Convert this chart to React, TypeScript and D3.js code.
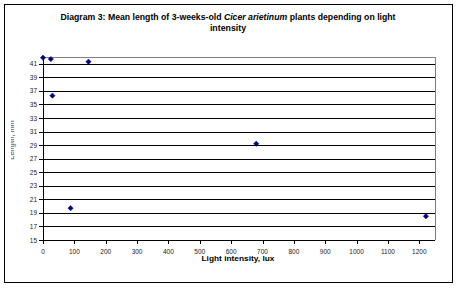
import React from "react";
import * as d3 from "d3";

const luxValues = [0, 25, 30, 145, 88, 680, 1221];
const lengthValues = [41.9, 41.7, 36.3, 41.3, 19.7, 29.2, 18.5];
const xTicks = [0, 100, 200, 300, 400, 500, 600, 700, 800, 900, 1000, 1100, 1200];
const yTicks = [15, 17, 19, 21, 23, 25, 27, 29, 31, 33, 35, 37, 39, 41];
const titleLine1a = "Diagram 3: Mean length of 3-weeks-old ";
const titleItalic = "Cicer arietinum";
const titleLine1b = "  plants depending on light";
const titleLine2 = "intensity";
const xLabel = "Light intensity, lux";
const yLabel = "Length, mm";

export default function App() {
  const W = 457, H = 288;
  const left = 43, right = 435, top = 57, bottom = 240;
  const x = d3.scaleLinear().domain([0, 1250]).range([left, right]);
  const y = d3.scaleLinear().domain([15, 42]).range([bottom, top]);
  const diamond = d3.symbol().type(d3.symbolDiamond2).size(18)();
  const font = "Liberation Sans, Arial, sans-serif";
  return (
    <svg width={W} height={H} style={{ position: "absolute", left: 0, top: 0 }}>
      <defs>
        <clipPath id="ylab">
          <rect x={11} y={0} width={40} height={H} />
        </clipPath>
      </defs>
      <rect x={0} y={0} width={W} height={H} fill="white" />
      <rect x={4.5} y={4.5} width={448} height={278} fill="white" stroke="black" strokeWidth={1} />
      <text x={228} y={20} textAnchor="middle" fontFamily={font} fontSize={8.8} fontWeight="bold" fill="#000" textLength={335} lengthAdjust="spacingAndGlyphs">
        {titleLine1a}
        <tspan fontStyle="italic">{titleItalic}</tspan>
        {titleLine1b}
      </text>
      <text x={228} y={31} textAnchor="middle" fontFamily={font} fontSize={8.8} fontWeight="bold" fill="#000">
        {titleLine2}
      </text>
      {/* plot border */}
      <line x1={left} x2={right} y1={top + 0.5} y2={top + 0.5} stroke="#808080" />
      <line x1={right + 0.5} x2={right + 0.5} y1={top} y2={bottom} stroke="#808080" />
      {/* gridlines */}
      {yTicks.filter((t) => t !== 15).map((t) => (
        <line key={"g" + t} x1={left} x2={right} y1={Math.round(y(t)) + 0.5} y2={Math.round(y(t)) + 0.5} stroke="#000" />
      ))}
      {/* axes */}
      <line x1={left + 0.5} x2={left + 0.5} y1={top} y2={bottom + 0.5} stroke="#000" />
      <line x1={left} x2={right} y1={bottom + 0.5} y2={bottom + 0.5} stroke="#000" />
      {yTicks.map((t) => (
        <g key={"y" + t}>
          <line x1={left - 4} x2={left} y1={Math.round(y(t)) + 0.5} y2={Math.round(y(t)) + 0.5} stroke="#000" />
          <text x={left - 6} y={y(t) + 2.5} textAnchor="end" fontFamily={font} fontSize={6.5} fill="#222">
            {t}
          </text>
        </g>
      ))}
      {xTicks.map((t) => (
        <g key={"x" + t}>
          <line x1={Math.round(x(t)) + 0.5} x2={Math.round(x(t)) + 0.5} y1={bottom} y2={bottom + 4} stroke="#000" />
          <text x={x(t)} y={bottom + 14} textAnchor="middle" fontFamily={font} fontSize={6.5} fill="#222">
            {t}
          </text>
        </g>
      ))}
      <text x={238} y={261} textAnchor="middle" fontFamily={font} fontSize={7.5} fontWeight="bold" fill="#000" textLength={73} lengthAdjust="spacingAndGlyphs">
        {xLabel}
      </text>
      <g clipPath="url(#ylab)">
        <text transform={`translate(14,${140}) rotate(-90)`} textAnchor="middle" fontFamily={font} fontSize={7} fontWeight="bold" fill="#777">
          {yLabel}
        </text>
      </g>
      {luxValues.map((v, i) => (
        <path key={"p" + i} d={diamond} transform={`translate(${x(v)},${y(lengthValues[i])})`} fill="#000080" stroke="#000080" strokeWidth={0.5} />
      ))}
    </svg>
  );
}
